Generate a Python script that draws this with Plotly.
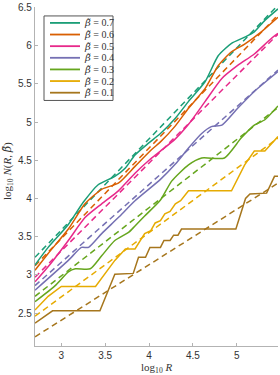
import plotly.graph_objects as go

# ---------------- data ----------------
beta_labels = ["0.7", "0.6", "0.5", "0.4", "0.3", "0.2", "0.1"]
colors = ["#1b9e77", "#d95f02", "#e7298a", "#7570b3", "#66a61e", "#e6ab02", "#a6761d"]

x_07 = [2.70, 2.85, 3.08, 3.25, 3.42, 3.61, 3.73, 3.84, 3.99, 4.13, 4.30, 4.45, 4.64, 4.79, 4.94, 5.09, 5.20, 5.32, 5.47]
y_07 = [3.13, 3.36, 3.66, 3.95, 4.18, 4.29, 4.40, 4.57, 4.72, 4.85, 5.05, 5.27, 5.53, 5.87, 6.03, 6.11, 6.18, 6.33, 6.48]

x_06 = [2.70, 2.85, 3.08, 3.27, 3.46, 3.65, 3.84, 4.03, 4.13, 4.30, 4.45, 4.64, 4.79, 4.94, 5.09, 5.28, 5.47]
y_06 = [3.06, 3.28, 3.60, 3.93, 4.12, 4.20, 4.42, 4.64, 4.74, 4.95, 5.18, 5.44, 5.74, 5.92, 6.02, 6.18, 6.37]

x_05 = [2.70, 2.88, 3.08, 3.27, 3.46, 3.65, 3.84, 4.00, 4.13, 4.30, 4.45, 4.64, 4.83, 5.01, 5.20, 5.39, 5.47]
y_05 = [2.91, 3.15, 3.45, 3.75, 3.93, 4.10, 4.33, 4.50, 4.62, 4.78, 4.97, 5.27, 5.57, 5.74, 5.89, 6.09, 6.16]

x_04 = [2.70, 3.08, 3.23, 3.31, 3.46, 3.65, 3.84, 4.13, 4.30, 4.45, 4.60, 4.71, 4.83, 5.01, 5.20, 5.47]
y_04 = [2.80, 3.19, 3.36, 3.36, 3.54, 3.75, 3.97, 4.25, 4.45, 4.66, 4.85, 4.94, 4.96, 5.18, 5.40, 5.66]

x_03 = [2.70, 2.93, 3.08, 3.16, 3.33, 3.46, 3.61, 3.77, 3.84, 3.95, 4.13, 4.26, 4.45, 4.60, 4.86, 5.05, 5.20, 5.32, 5.47]
y_03 = [2.65, 2.86, 3.04, 3.08, 3.08, 3.25, 3.45, 3.56, 3.64, 3.77, 3.98, 4.23, 4.44, 4.53, 4.53, 4.79, 4.96, 5.03, 5.21]

x_02 = [2.70, 2.85, 3.00, 3.39, 3.61, 3.73, 3.84, 3.95, 4.02, 4.07, 4.13, 4.18, 4.24, 4.30, 4.36, 4.45, 4.94, 5.09, 5.20, 5.32, 5.47]
y_02 = [2.54, 2.72, 2.85, 2.85, 3.19, 3.34, 3.34, 3.54, 3.58, 3.68, 3.71, 3.80, 3.83, 3.93, 3.97, 4.10, 4.10, 4.44, 4.62, 4.62, 4.81]

x_01 = [2.70, 2.90, 3.44, 3.61, 3.82, 3.88, 3.96, 4.01, 4.13, 4.17, 4.24, 4.28, 4.33, 4.37, 4.99, 5.10, 5.15, 5.34, 5.43, 5.47]
y_01 = [2.37, 2.53, 2.53, 3.01, 3.02, 3.23, 3.23, 3.36, 3.36, 3.45, 3.45, 3.52, 3.52, 3.60, 3.60, 4.00, 4.06, 4.07, 4.29, 4.29]

# dashed reference lines (values at the two ends of the x range)
x_fit = [2.70, 5.47]
fit_07 = [3.23, 6.53]
fit_06 = [3.12, 6.40]
fit_05 = [2.97, 6.15]
fit_04 = [2.86, 5.68]
fit_03 = [2.72, 5.19]
fit_02 = [2.46, 4.79]
fit_01 = [2.19, 4.20]

solid_x = [x_07, x_06, x_05, x_04, x_03, x_02, x_01]
solid_y = [y_07, y_06, y_05, y_04, y_03, y_02, y_01]
fits = [fit_07, fit_06, fit_05, fit_04, fit_03, fit_02, fit_01]

x_ticks = [3, 3.5, 4, 4.5, 5]
y_ticks = [2.5, 3, 3.5, 4, 4.5, 5, 5.5, 6, 6.5]

# ---------------- figure ----------------
fig = go.Figure()
smooth = [True, True, True, True, True, False, False]
for i in range(len(beta_labels) - 1, -1, -1):
    fig.add_trace(go.Scatter(
        x=x_fit, y=fits[i], mode="lines",
        line=dict(color=colors[i], width=1.5, dash="6px,4px"),
        showlegend=False, hoverinfo="skip"))
for i in range(len(beta_labels) - 1, -1, -1):
    fig.add_trace(go.Scatter(
        x=solid_x[i], y=solid_y[i], mode="lines",
        line=dict(color=colors[i], width=1.5,
                  shape="spline" if smooth[i] else "linear",
                  smoothing=0.6 if smooth[i] else None),
        showlegend=False, hoverinfo="skip"))

axis_col = "#b3b3b3"
fig.update_xaxes(range=[2.70, 5.47], tickvals=x_ticks, ticks="inside", ticklen=3,
                 tickcolor=axis_col, showline=True, linecolor=axis_col, linewidth=1.3,
                 showgrid=False, zeroline=False, mirror=False, ticklabeloverflow="allow",
                 tickfont=dict(family="Liberation Sans", size=10, color="#333333"))
fig.update_yaxes(range=[2.07, 6.505], tickvals=y_ticks, ticks="inside", ticklen=3,
                 tickcolor=axis_col, showline=True, linecolor=axis_col, linewidth=1.3,
                 showgrid=False, zeroline=False, mirror=False, ticklabeloverflow="allow",
                 tickfont=dict(family="Liberation Sans", size=10, color="#333333"))

# manual legend (compact, like the reference)
pw, ph = 243.0, 341.0
def px(xp):
    return (xp - 35) / pw
def py(yp):
    return (346 - yp) / ph

btil = '<span style="font-family:DejaVu Serif;font-style:italic">β̃</span>'

shapes = [dict(type="rect", xref="paper", yref="paper",
               x0=px(44), x1=px(113), y0=py(99), y1=py(14),
               line=dict(color="#555555", width=1), fillcolor="white", layer="above")]
annotations = []
for k, lab in enumerate(beta_labels):
    yy = 21 + k * 11.7
    shapes.append(dict(type="line", xref="paper", yref="paper",
                       x0=px(50), x1=px(80), y0=py(yy), y1=py(yy),
                       line=dict(color=colors[k], width=1.8), layer="above"))
    annotations.append(dict(xref="paper", yref="paper", x=px(82), y=py(yy),
                            xanchor="left", yanchor="middle", showarrow=False,
                            text=btil + " = " + lab,
                            font=dict(family="Liberation Serif", size=10, color="#333333")))

annotations.append(dict(xref="paper", yref="paper", x=0.5, y=py(368),
                        xanchor="center", yanchor="middle", showarrow=False,
                        text="log<sub>10</sub> <i>R</i>",
                        font=dict(family="Liberation Serif", size=11, color="#333333")))
annotations.append(dict(xref="paper", yref="paper", x=px(8), y=py(170),
                        xanchor="center", yanchor="middle", showarrow=False, textangle=-90,
                        text="log<sub>10</sub> <i>N</i>(<i>R</i>, " + btil + ")",
                        font=dict(family="Liberation Serif", size=11, color="#333333")))

fig.update_layout(width=280, height=375, margin=dict(l=35, r=2, t=5, b=29),
                  plot_bgcolor="white", paper_bgcolor="white",
                  shapes=shapes, annotations=annotations, showlegend=False)

fig.write_html("out.html", config={"displayModeBar": False},
               post_script="document.body.style.margin='0px';")
